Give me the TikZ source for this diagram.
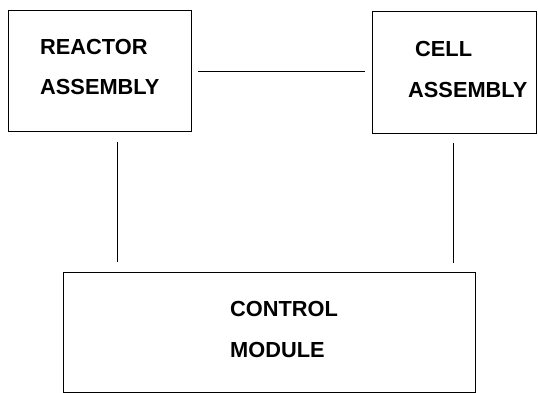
\documentclass[tikz,border=0pt]{standalone}
\usepackage{fontspec}
\setmainfont{Liberation Sans}
\begin{document}
\begin{tikzpicture}[x=1pt,y=-1pt,
  blk/.style={draw, line width=0.9pt, inner sep=0pt},
  lbl/.style={anchor=base west, inner sep=0pt, font=\fontsize{21.8}{26}\selectfont\bfseries},
  wire/.style={line width=0.8pt}]
\useasboundingbox (0,0) rectangle (538,393);
\node[blk, minimum width=183pt, minimum height=121pt] (reactor) at (99.5,71) {};
\node[blk, minimum width=164pt, minimum height=122pt] (cell) at (454,72) {};
\node[blk, minimum width=412pt, minimum height=120pt] (control) at (269,332) {};
\node[lbl] (t1) at (40,55) {REACTOR};
\node[lbl] (t2) at (40,95) {ASSEMBLY};
\node[lbl] (t3) at (415,57) {CELL};
\node[lbl] (t4) at (408,98) {ASSEMBLY};
\node[lbl] (t5) at (230,316) {CONTROL};
\node[lbl] (t6) at (230,357) {MODULE};
\coordinate (h1) at (198,71);
\coordinate (h2) at (365,71);
\draw[wire] (h1) -- (h2);
\coordinate (v1a) at (117,142);
\coordinate (v1b) at (117,262);
\draw[wire] (v1a) -- (v1b);
\coordinate (v2a) at (453,143);
\coordinate (v2b) at (453,263);
\draw[wire] (v2a) -- (v2b);
\end{tikzpicture}
\end{document}
